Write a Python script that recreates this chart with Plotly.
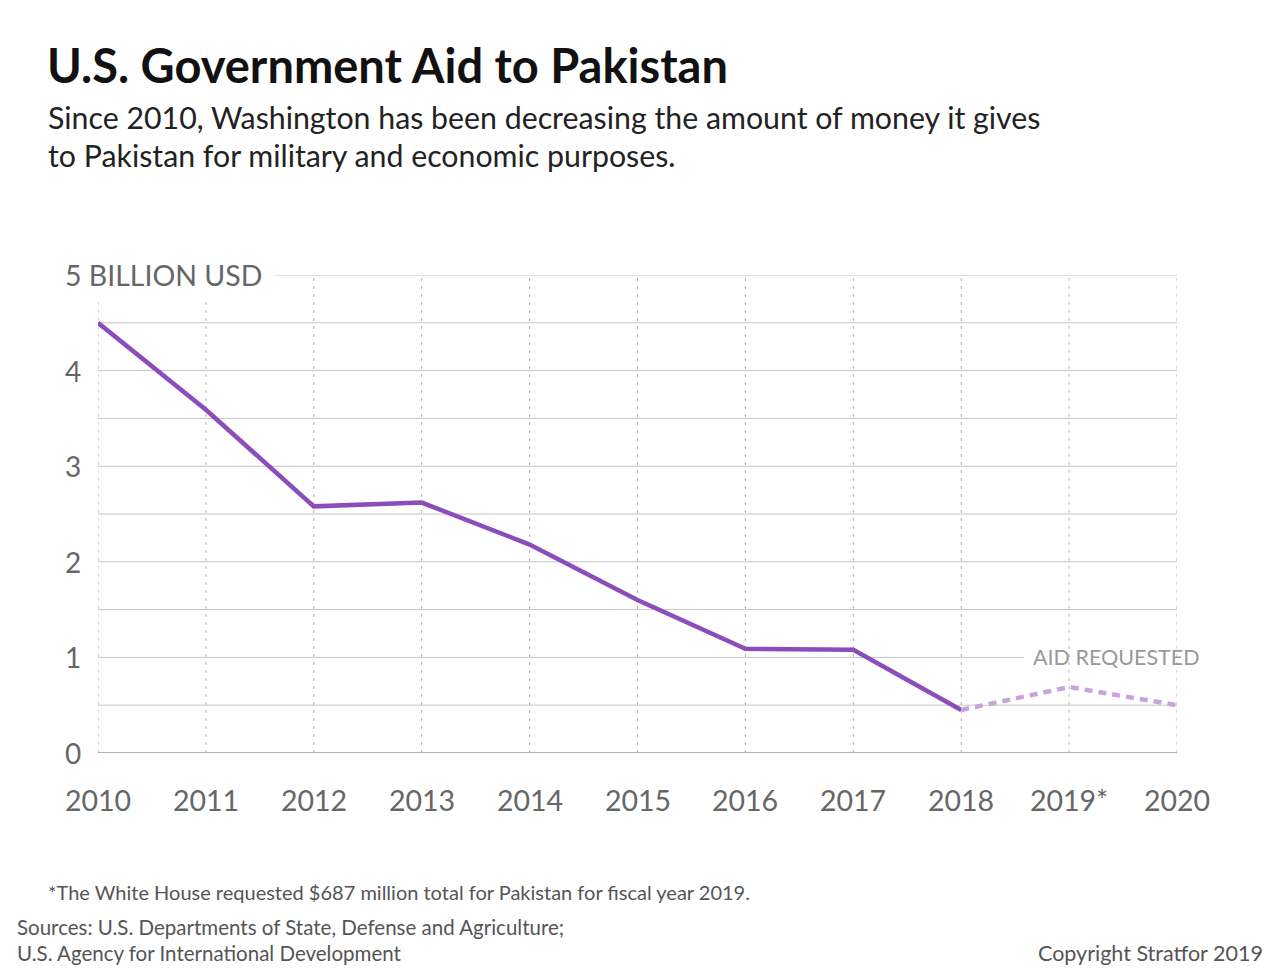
import plotly.graph_objects as go

years = [2010, 2011, 2012, 2013, 2014, 2015, 2016, 2017, 2018]
aid_billion = [4.50, 3.59, 2.58, 2.62, 2.18, 1.60, 1.09, 1.08, 0.45]
req_years = [2018, 2019, 2020]
req_billion = [0.45, 0.69, 0.50]
x_tick_labels = ["2010", "2011", "2012", "2013", "2014", "2015", "2016", "2017", "2018", "2019*", "2020"]
y_tick_vals = [0, 1, 2, 3, 4]
grid_vals = [0.5, 1, 1.5, 2, 2.5, 3, 3.5, 4, 4.5, 5]

FONT = "Lato"
L, R, T, B = 98, 103, 275, 225
W, H = 1280, 978
PW, PH = W - L - R, H - T - B

def px(x):
    return (x - L) / PW

def py(y):
    return (H - y - B) / PH

fig = go.Figure()

shapes = []
for yr in range(2010, 2021):
    top = 4.75 if yr in (2010, 2011) else 5
    shapes.append(dict(type="line", xref="x", yref="y", x0=yr, x1=yr, y0=0, y1=top,
                       line=dict(color="#b0b0b0", width=1, dash="3px,5px"), layer="below"))
for g in grid_vals:
    x0, x1 = 2010, 2020
    if g == 5:
        x0 = 2010 + (275 - L) / (PW / 10)
    if g == 1:
        x1 = 2010 + (1024 - L) / (PW / 10)
    shapes.append(dict(type="line", xref="x", yref="y", x0=x0, x1=x1, y0=g, y1=g,
                       line=dict(color="#c4c4c4", width=1), layer="below"))
shapes.append(dict(type="line", xref="x", yref="y", x0=2010, x1=2020, y0=0, y1=0,
                   line=dict(color="#9a9a9a", width=1.5), layer="below"))

fig.add_trace(go.Scatter(x=years, y=aid_billion, mode="lines",
                         line=dict(color="#8b4dbb", width=4.5), cliponaxis=False,
                         hoverinfo="x+y"))
fig.add_trace(go.Scatter(x=req_years, y=req_billion, mode="lines",
                         line=dict(color="#c9a3de", width=4.5, dash="8px,6px"), cliponaxis=False,
                         hoverinfo="x+y"))

ann = []
for v in y_tick_vals:
    ann.append(dict(x=px(63), y=v, xref="paper", yref="y", text=str(v), showarrow=False,
                    xanchor="left", yanchor="middle", font=dict(family=FONT, size=28, color="#666666")))
ann.append(dict(x=px(63), y=5, xref="paper", yref="y", text="5 BILLION USD", showarrow=False,
                xanchor="left", yanchor="middle", font=dict(family=FONT, size=28.5, color="#666666")))
for yr, lab in zip(range(2010, 2021), x_tick_labels):
    ann.append(dict(x=yr, y=py(800), xref="x", yref="paper", text=lab, showarrow=False,
                    xanchor="center", yanchor="middle", font=dict(family=FONT, size=28.5, color="#666666")))
ann.append(dict(x=px(1031), y=1, xref="paper", yref="y", text="AID REQUESTED", showarrow=False,
                xanchor="left", yanchor="middle", font=dict(family=FONT, size=21.5, color="#999999")))
ann.append(dict(x=px(45), y=py(65), xref="paper", yref="paper", text="<b>U.S. Government Aid to Pakistan</b>",
                showarrow=False, xanchor="left", yanchor="middle",
                font=dict(family=FONT, size=47, color="#111111")))
for txt, yy in [("Since 2010, Washington has been decreasing the amount of money it gives", 117),
                ("to Pakistan for military and economic purposes.", 155)]:
    ann.append(dict(x=px(46), y=py(yy), xref="paper", yref="paper", text=txt,
                    showarrow=False, xanchor="left", yanchor="middle",
                    font=dict(family=FONT, size=30.3, color="#222222")))
ann.append(dict(x=px(46), y=py(892), xref="paper", yref="paper",
                text="*The White House requested $687 million total for Pakistan for fiscal year 2019.",
                showarrow=False, xanchor="left", yanchor="middle",
                font=dict(family=FONT, size=20, color="#555555")))
for txt, yy in [("Sources: U.S. Departments of State, Defense and Agriculture;", 927),
                ("U.S. Agency for International Development", 953)]:
    ann.append(dict(x=px(15), y=py(yy), xref="paper", yref="paper", text=txt,
                    showarrow=False, xanchor="left", yanchor="middle",
                    font=dict(family=FONT, size=20.5, color="#555555")))
ann.append(dict(x=px(1265), y=py(953), xref="paper", yref="paper",
                text="Copyright Stratfor 2019",
                showarrow=False, xanchor="right", yanchor="middle",
                font=dict(family=FONT, size=21.5, color="#555555")))

fig.update_layout(
    width=W, height=H,
    margin=dict(l=L, r=R, t=T, b=B),
    paper_bgcolor="white", plot_bgcolor="white",
    showlegend=False,
    xaxis=dict(range=[2010, 2020], showgrid=False, zeroline=False, showticklabels=False,
               showline=False, fixedrange=True),
    yaxis=dict(range=[0, 5], showgrid=False, zeroline=False, showticklabels=False,
               showline=False, fixedrange=True),
    shapes=shapes,
    annotations=ann,
)

fig.write_html("out.html")
